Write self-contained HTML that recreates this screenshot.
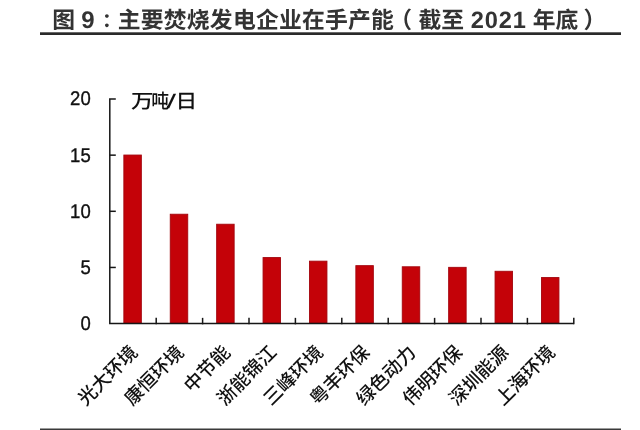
<!DOCTYPE html>
<html lang="zh-CN">
<head>
<meta charset="utf-8">
<title>图 9：主要焚烧发电企业在手产能</title>
<style>
html,body{margin:0;padding:0;background:#fff;}
body{width:640px;height:430px;overflow:hidden;position:relative;font-family:"Liberation Sans","Noto Sans CJK SC",sans-serif;}
svg{position:absolute;left:0;top:0;display:block;filter:blur(0.35px);}
text{font-family:"Liberation Sans","Noto Sans CJK SC",sans-serif;text-rendering:geometricPrecision;}
.title{font-weight:bold;font-size:22.8px;fill:#333;}
.yl{font-size:19.1px;fill:#111;stroke:#111;stroke-width:0.35px;text-anchor:end;}
.unit{font-size:18.8px;font-weight:500;fill:#111;}
.xl{font-size:18.7px;font-weight:500;fill:#111;text-anchor:end;}
</style>
</head>
<body>
<svg width="640" height="430" viewBox="0 0 640 430">
<rect x="0" y="0" width="640" height="430" fill="#ffffff"/>
<text class="title" y="27.7"><tspan x="52.3">图</tspan><tspan x="81.3" font-size="24">9</tspan><tspan x="101.9" dy="-1" font-size="19.5">：</tspan><tspan x="117.8" dy="1" letter-spacing="0.22">主要焚烧发电企业在手产能</tspan><tspan x="389.3">（</tspan><tspan x="418.4">截至</tspan><tspan x="470.7" font-size="23.6" letter-spacing="0.9">2021</tspan><tspan x="532.8">年底</tspan><tspan x="583.6">）</tspan></text>
<rect x="40" y="32.3" width="581" height="2.7" fill="#2a2a2a"/>
<rect x="40" y="428.5" width="581" height="2" fill="#3a3a3a"/>

<g fill="#c40208" stroke="#a3060e" stroke-width="0.9">
<rect x="123.85" y="155.04" width="17.50" height="168.11"/>
<rect x="170.25" y="214.22" width="17.50" height="108.93"/>
<rect x="216.65" y="224.22" width="17.50" height="98.93"/>
<rect x="263.05" y="257.57" width="17.50" height="65.58"/>
<rect x="309.45" y="261.16" width="17.50" height="61.99"/>
<rect x="355.85" y="265.65" width="17.50" height="57.50"/>
<rect x="402.25" y="266.78" width="17.50" height="56.37"/>
<rect x="448.65" y="267.34" width="17.50" height="55.81"/>
<rect x="495.05" y="271.27" width="17.50" height="51.88"/>
<rect x="541.45" y="277.56" width="17.50" height="45.59"/>
</g>
<g stroke="#161616" stroke-width="1.5" fill="none">
<path d="M115.8 99.00 H109.8 V323.6 H573.8"/>
<path d="M109.8 267.45 h6"/>
<path d="M109.8 211.30 h6"/>
<path d="M109.8 155.15 h6"/>
<path d="M156.20 324.35 v-6.5"/>
<path d="M202.60 324.35 v-6.5"/>
<path d="M249.00 324.35 v-6.5"/>
<path d="M295.40 324.35 v-6.5"/>
<path d="M341.80 324.35 v-6.5"/>
<path d="M388.20 324.35 v-6.5"/>
<path d="M434.60 324.35 v-6.5"/>
<path d="M481.00 324.35 v-6.5"/>
<path d="M527.40 324.35 v-6.5"/>
<path d="M573.80 324.35 v-6.5"/>
</g>
<text class="yl" transform="translate(90.7 330.0) scale(0.97 1.03)" x="0" y="0">0</text>
<text class="yl" transform="translate(90.7 273.9) scale(0.97 1.03)" x="0" y="0">5</text>
<text class="yl" transform="translate(90.7 217.7) scale(0.97 1.03)" x="0" y="0">10</text>
<text class="yl" transform="translate(90.7 161.6) scale(0.97 1.03)" x="0" y="0">15</text>
<text class="yl" transform="translate(90.7 105.4) scale(0.97 1.03)" x="0" y="0">20</text>
<text class="unit" transform="translate(0 107.6) scale(1 1.04)" y="0"><tspan x="131" textLength="22.37" lengthAdjust="spacingAndGlyphs">万</tspan><tspan x="151.3" textLength="17.86" lengthAdjust="spacingAndGlyphs">吨</tspan><tspan x="166.6" textLength="9.6" lengthAdjust="spacingAndGlyphs">/</tspan><tspan x="175.6" textLength="21.6" lengthAdjust="spacingAndGlyphs">日</tspan></text>
<text class="xl" transform="translate(138.60 353.60) rotate(-45)" x="0" y="0">光大环境</text>
<text class="xl" transform="translate(185.00 353.60) rotate(-45)" x="0" y="0">康恒环境</text>
<text class="xl" transform="translate(231.40 353.60) rotate(-45)" x="0" y="0">中节能</text>
<text class="xl" transform="translate(277.80 353.60) rotate(-45)" x="0" y="0">浙能锦江</text>
<text class="xl" transform="translate(324.20 353.60) rotate(-45)" x="0" y="0">三峰环境</text>
<text class="xl" transform="translate(370.60 353.60) rotate(-45)" x="0" y="0">粤丰环保</text>
<text class="xl" transform="translate(417.00 353.60) rotate(-45)" x="0" y="0">绿色动力</text>
<text class="xl" transform="translate(463.40 353.60) rotate(-45)" x="0" y="0">伟明环保</text>
<text class="xl" transform="translate(509.80 353.60) rotate(-45)" x="0" y="0">深圳能源</text>
<text class="xl" transform="translate(556.20 353.60) rotate(-45)" x="0" y="0">上海环境</text>
</svg>
</body>
</html>
